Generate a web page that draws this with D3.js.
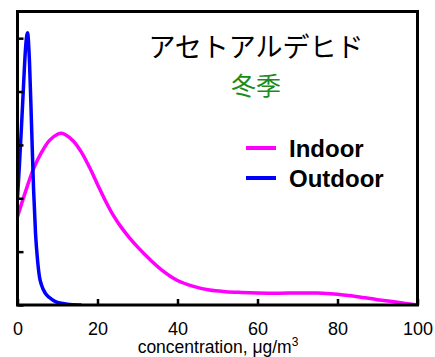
<!DOCTYPE html>
<html>
<head>
<meta charset="utf-8">
<script src="https://cdn.jsdelivr.net/npm/d3@7"></script>
<style>
  html, body { margin: 0; padding: 0; background: #fff; }
  svg { display: block; }
  text { font-family: "Liberation Sans", Arial, sans-serif; }
  .jp { font-family: "Noto Sans CJK JP", sans-serif; }
</style>
</head>
<body>
<svg id="chart" width="435" height="357"></svg>
<script>
// Probability density of acetaldehyde concentration (winter)
const indoorConc = [0, 2, 4, 6, 8, 10, 11, 12, 14, 16, 18, 20, 22, 24, 26, 28, 30, 33, 36, 40, 44, 48, 52, 56, 60, 65, 70, 75, 80, 85, 90, 95, 100];
const indoorDensity = [0.0331, 0.0425, 0.0510, 0.0572, 0.0617, 0.0640, 0.0644, 0.0638, 0.0614, 0.0572, 0.0516, 0.0452, 0.0390, 0.0335, 0.0290, 0.0252, 0.0218, 0.0172, 0.0132, 0.0092, 0.0070, 0.0056, 0.0050, 0.0047, 0.0045, 0.0044, 0.0045, 0.0045, 0.0040, 0.0031, 0.0020, 0.0010, 0.0];

const outdoorConc = [0, 0.5, 1, 1.5, 2, 2.5, 3, 3.5, 4, 4.5, 5, 5.5, 6, 7, 8, 9, 10, 11, 12, 13, 14, 15, 16];
const outdoorDensity = [0.040, 0.053, 0.067, 0.082, 0.096, 0.102, 0.091, 0.068, 0.044, 0.027, 0.017, 0.0105, 0.0075, 0.0043, 0.0028, 0.0017, 0.0010, 0.0007, 0.0004, 0.0002, 0.0001, 0.00003, 0];

const xTicks = [0, 20, 40, 60, 80, 100];
const yTicks = [0, 0.02, 0.04, 0.06, 0.08, 0.10];

const series = [
  { name: "Indoor", color: "#ff00ff", conc: indoorConc, dens: indoorDensity, curve: d3.curveCatmullRom.alpha(0.5) },
  { name: "Outdoor", color: "#0000ff", conc: outdoorConc, dens: outdoorDensity, curve: d3.curveMonotoneX }
];

const svg = d3.select("#chart");
const plot = { left: 17.5, right: 417.5, top: 11.5, bottom: 305 };

const x = d3.scaleLinear().domain([0, 100]).range([plot.left, plot.right]);
const y = d3.scaleLinear().domain([0, 0.11]).range([plot.bottom, plot.top]);

svg.append("clipPath").attr("id", "plotclip")
  .append("rect")
  .attr("x", plot.left).attr("y", plot.top)
  .attr("width", plot.right - plot.left).attr("height", plot.bottom - plot.top);

// density curves
svg.append("g").attr("clip-path", "url(#plotclip)")
  .selectAll("path")
  .data(series)
  .join("path")
  .attr("d", s => d3.line()
      .x(d => x(d[0]))
      .y(d => y(Math.max(0, d[1])))
      .curve(s.curve)(s.conc.map((c, i) => [c, s.dens[i]])))
  .attr("fill", "none")
  .attr("stroke", s => s.color)
  .attr("stroke-width", 3.5)
  .attr("stroke-linejoin", "round");

// bottom axis (ticks point inward)
const xAxis = svg.append("g")
  .attr("transform", `translate(0,${plot.bottom})`)
  .call(d3.axisBottom(x).tickValues(xTicks).tickSizeInner(-6).tickSizeOuter(0).tickPadding(17));
xAxis.select(".domain").remove();
xAxis.selectAll(".tick line").attr("stroke", "#000").attr("stroke-width", 2.5);
xAxis.selectAll(".tick text").attr("font-size", 18).attr("fill", "#000")
  .style("font-family", "'Liberation Sans', Arial, sans-serif");

// left axis (ticks only)
const yAxis = svg.append("g")
  .attr("transform", `translate(${plot.left},0)`)
  .call(d3.axisLeft(y).tickValues(yTicks).tickSizeInner(-6).tickSizeOuter(0).tickFormat(""));
yAxis.select(".domain").remove();
yAxis.selectAll(".tick line").attr("stroke", "#000").attr("stroke-width", 2.5);

// frame
svg.append("rect")
  .attr("x", plot.left).attr("y", plot.top)
  .attr("width", plot.right - plot.left).attr("height", plot.bottom - plot.top)
  .attr("fill", "none").attr("stroke", "#000").attr("stroke-width", 3);

// axis title
const xt = svg.append("text")
  .attr("x", 218).attr("y", 353)
  .attr("text-anchor", "middle")
  .attr("font-size", 17.5)
  .attr("fill", "#000");
xt.append("tspan").text("concentration, μg/m");
xt.append("tspan").text("3").attr("font-size", 12).attr("dy", -7);

// title: compound name and season
svg.append("text").attr("class", "jp")
  .attr("x", 256).attr("y", 57)
  .attr("text-anchor", "middle")
  .attr("font-size", 27)
  .attr("fill", "#000")
  .text("アセトアルデヒド");
svg.append("text").attr("class", "jp")
  .attr("x", 256).attr("y", 95)
  .attr("text-anchor", "middle")
  .attr("font-size", 25)
  .attr("fill", "#1a8c1a")
  .text("冬季");

// legend
const legendY = [148, 178];
const legend = svg.append("g");
series.forEach((s, i) => {
  legend.append("line")
    .attr("x1", 246).attr("x2", 276)
    .attr("y1", legendY[i]).attr("y2", legendY[i])
    .attr("stroke", s.color).attr("stroke-width", 4);
  legend.append("text")
    .attr("x", 289).attr("y", legendY[i] + 9)
    .attr("font-size", 24).attr("font-weight", "bold")
    .attr("fill", "#000")
    .text(s.name);
});
</script>
</body>
</html>
